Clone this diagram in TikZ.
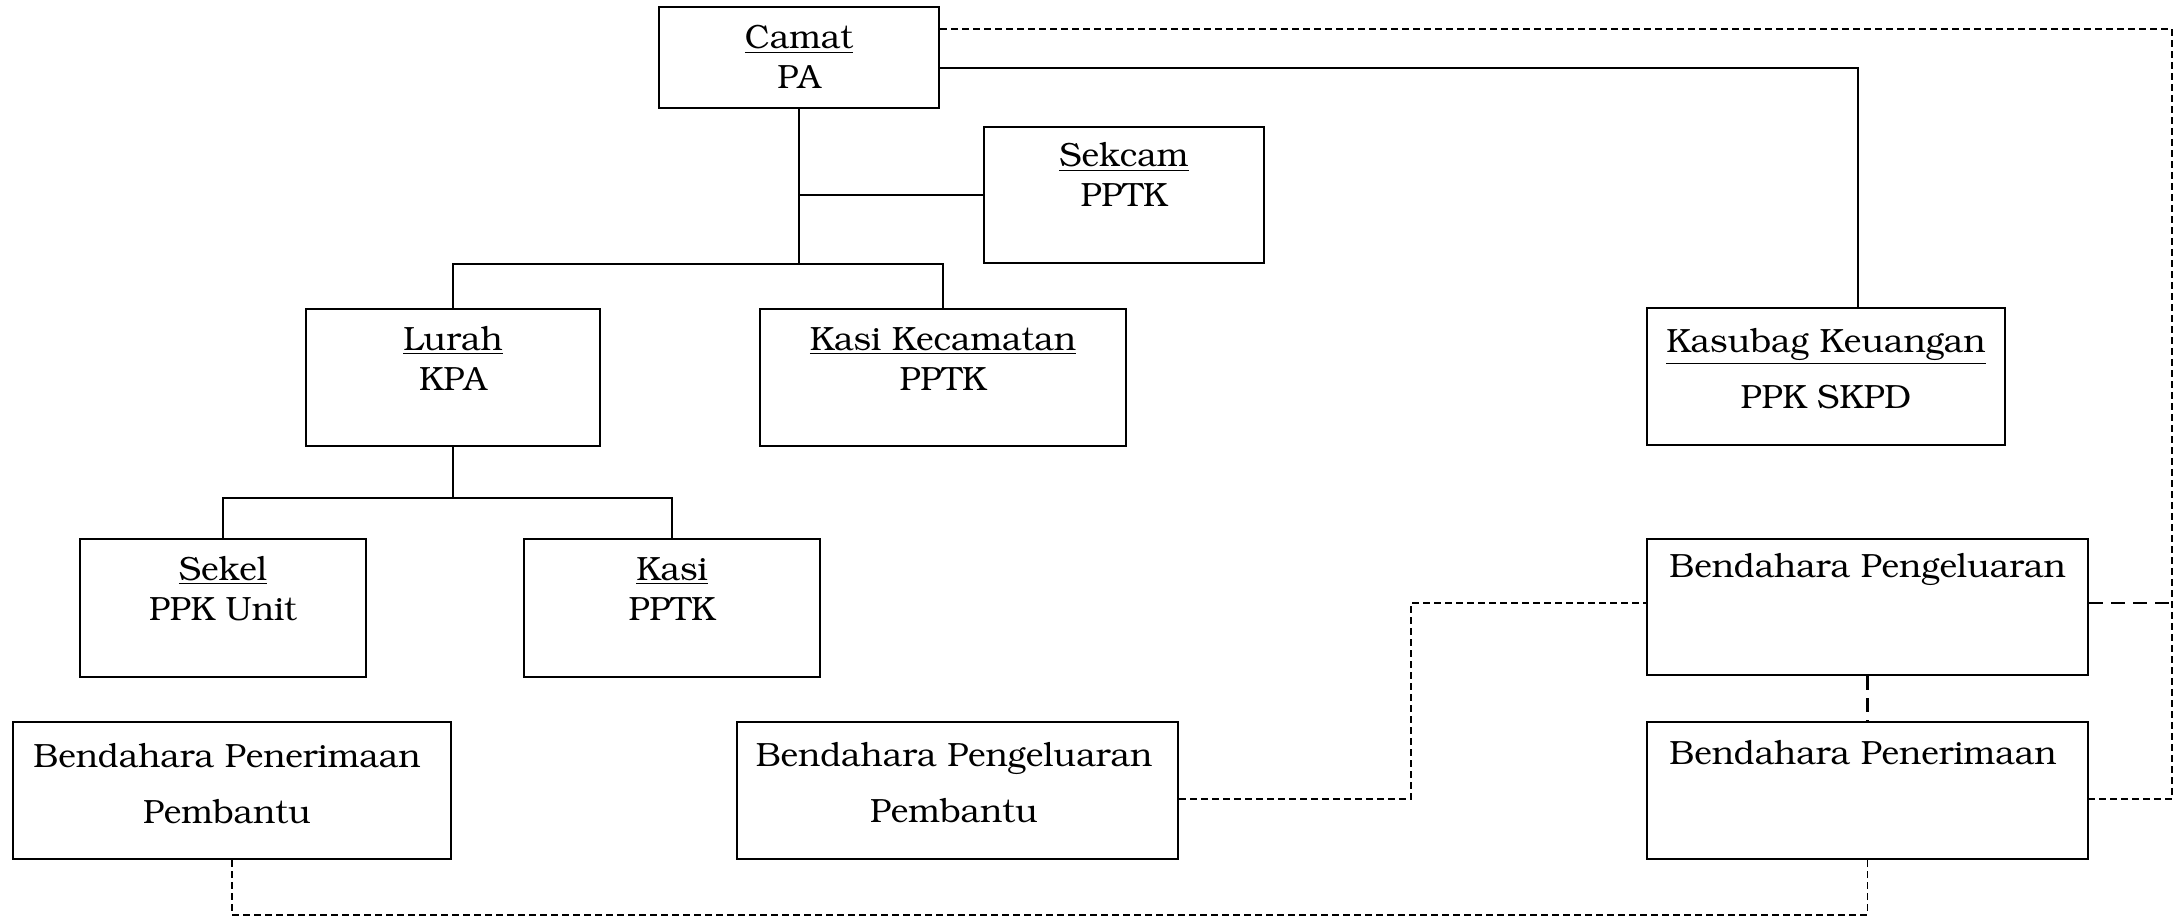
\documentclass[tikz,border=0pt]{standalone}
\usepackage[T1]{fontenc}
\usepackage{bookman}
\usetikzlibrary{fit,calc}
\begin{document}
\begin{tikzpicture}[x=0.5pt,y=-0.5pt,
  box/.style={draw, line width=1.4pt, inner sep=0pt},
  conn/.style={line width=0.9pt},
  dsh/.style={line width=0.9pt, dash pattern=on 3.5pt off 2pt},
  dshthick/.style={line width=1.3pt, dash pattern=on 7pt off 4pt},
  txt/.style={font=\fontsize{16.8}{20}\selectfont, align=center, inner sep=0pt}]
\useasboundingbox (0,0) rectangle (2181,920);
% boxes
\node[box, fit={(659,7) (939,108)}] (camat) {};
\node[box, fit={(984,127) (1264,263)}] (sekcam) {};
\node[box, fit={(306,309) (600,446)}] (lurah) {};
\node[box, fit={(760,309) (1126,446)}] (kasikec) {};
\node[box, fit={(1647,308) (2005,445)}] (kasubag) {};
\node[box, fit={(80,539) (366,677)}] (sekel) {};
\node[box, fit={(524,539) (820,677)}] (kasi) {};
\node[box, fit={(1647,539) (2088,675)}] (bpeng) {};
\node[box, fit={(13,722) (451,859)}] (bpenp) {};
\node[box, fit={(737,722) (1178,859)}] (bpengp) {};
\node[box, fit={(1647,722) (2088,859)}] (bpen) {};
% texts
\node[txt] (tcamat) at (799,57) {\underline{Camat}\\PA};
\node[txt] (tsekcam) at (1124,175) {\underline{Sekcam}\\PPTK};
\node[txt] (tlurah) at (453,359) {\underline{Lurah}\\KPA};
\node[txt] (tkasikec) at (943,359) {\underline{Kasi Kecamatan}\\PPTK};
\node[txt] (tkasubag) at (1826,369) {\underline{Kasubag Keuangan}\\[8pt]PPK SKPD};
\node[txt] (tsekel) at (223,589) {\underline{Sekel}\\PPK Unit};
\node[txt] (tkasi) at (672,589) {\underline{Kasi}\\PPTK};
\node[txt, anchor=west] (tbpeng) at (1669,570) {Bendahara Pengeluaran};
\node[txt, anchor=west] (tbpen) at (1669,753) {Bendahara Penerimaan};
\node[txt] (tbpenp) at (227,784) {Bendahara Penerimaan\\[8pt]Pembantu};
\node[txt] (tbpengp) at (954,783) {Bendahara Pengeluaran\\[8pt]Pembantu};
% solid connectors
\coordinate (bus1) at (camat.south |- 0,264);
\coordinate (bus2) at (lurah.south |- 0,498);
\draw[conn] (camat.south) -- (bus1);
\draw[conn] (camat.south |- sekcam.west) -- (sekcam.west);
\draw[conn] (lurah.north) |- (bus1) -| (kasikec.north);
\draw[conn] (lurah.south) -- (bus2);
\draw[conn] (sekel.north) |- (bus2) -| (kasi.north);
\draw[conn] (camat.east |- 0,68) -| (1858,0 |- kasubag.north);
% dashed connectors
\coordinate (R) at (2172,799);
\coordinate (L) at (1411,603);
\coordinate (B) at (0,915);
\draw[dsh] (camat.east |- 0,29) -| (R) -- (R -| bpen.east);
\draw[dshthick] (bpeng.east |- L) -- (R |- L);
\draw[dshthick] (bpeng.south) -- (bpen.north);
\draw[dsh] (bpengp.east |- R) -| (L) -- (L -| bpeng.west);
\draw[dsh] (bpenp.south) |- (B -| bpen.south) -- (bpen.south);
\end{tikzpicture}
\end{document}
